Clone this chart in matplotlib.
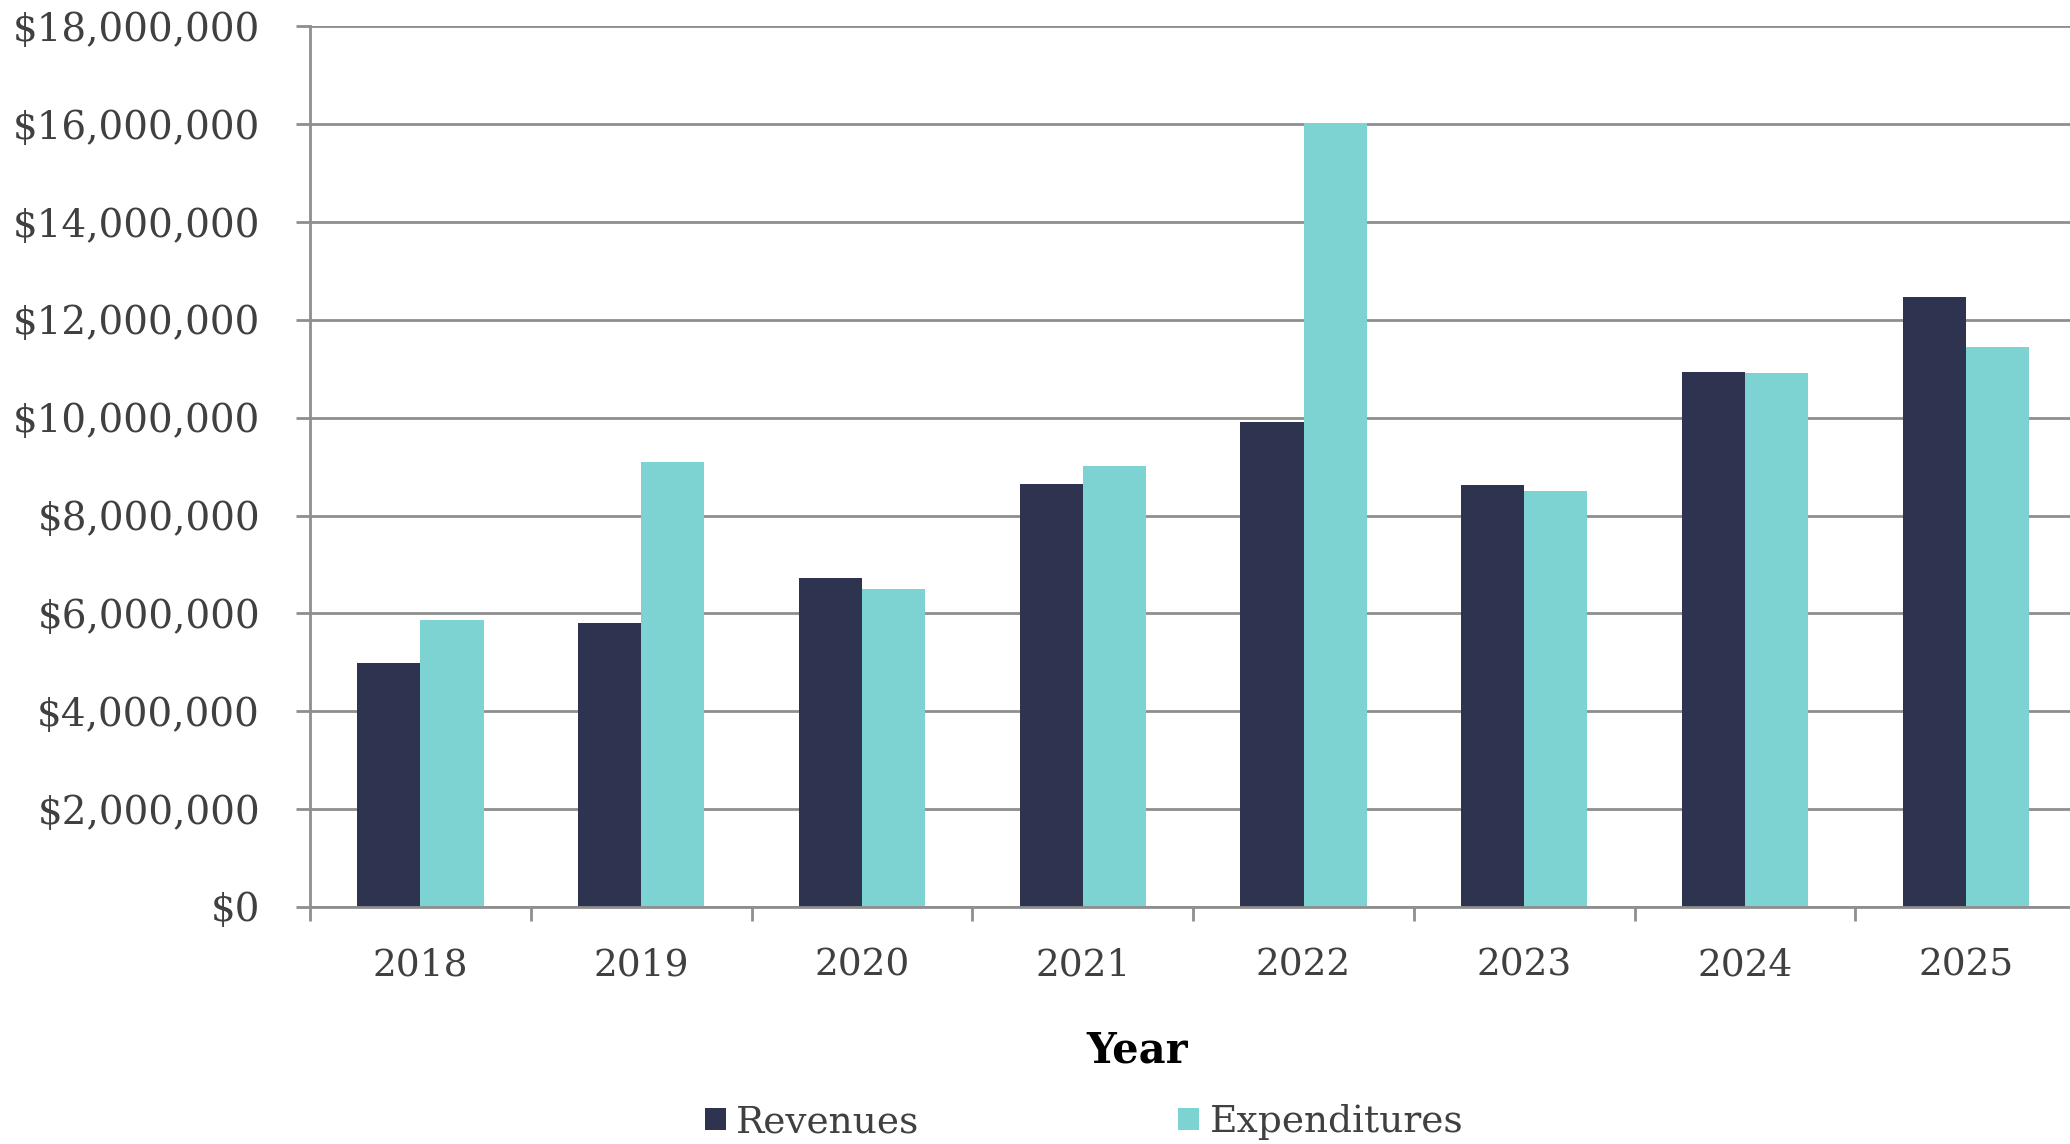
import numpy as np
import matplotlib.pyplot as plt
from matplotlib.ticker import FuncFormatter, FixedLocator

# Данные
years = ['2018', '2019', '2020', '2021', '2022', '2023', '2024', '2025']
revenues = [4990000, 5800000, 6720000, 8640000, 9910000, 8630000, 10940000, 12470000]
expenditures = [5860000, 9100000, 6510000, 9010000, 16020000, 8510000, 10910000, 11440000]

navy = '#2E3350'
teal = '#7DD3D2'
grid_col = '#8E8E8E'
text_col = '#404040'

plt.rcParams['font.family'] = 'DejaVu Serif'

fig = plt.figure(figsize=(20.7, 11.44), dpi=100)
ax = fig.add_axes([0.1498, 0.2072, 0.8532, 0.7697])

x = np.arange(len(years))
w = 0.2857
ax.bar(x - w / 2, revenues, w, color=navy, label='Revenues', zorder=3)
ax.bar(x + w / 2, expenditures, w, color=teal, label='Expenditures', zorder=3)

ax.set_xlim(-0.5, len(years) - 0.5)
ax.set_ylim(0, 18000000)
ax.set_yticks(np.arange(0, 18000001, 2000000))
ax.yaxis.set_major_formatter(FuncFormatter(lambda v, p: f'${v:,.0f}'))
ax.grid(axis='y', color=grid_col, linewidth=2.0, zorder=0)

# Деления по границам категорий, подписи по центрам
ax.xaxis.set_major_locator(FixedLocator(np.arange(-0.5, len(years), 1.0)))
ax.xaxis.set_minor_locator(FixedLocator(x))
ax.set_xticklabels([])
ax.set_xticklabels(years, minor=True)
ax.tick_params(axis='x', which='major', length=10, width=2.0, color=grid_col, direction='out')
ax.tick_params(axis='x', which='minor', length=0, pad=29, labelsize=27, labelcolor=text_col)
ax.tick_params(axis='y', length=10, width=2.0, color=grid_col, pad=26, labelsize=28, labelcolor=text_col)

for side in ['top', 'right']:
    ax.spines[side].set_visible(False)
for side in ['left', 'bottom']:
    ax.spines[side].set_color(grid_col)
    ax.spines[side].set_linewidth(2.0)
ax.spines['bottom'].set_zorder(4)

fig.text(0.5493, 0.082, 'Year', ha='center', va='center', fontsize=30, fontweight='bold', color='black')

fig.legend(loc='center', bbox_to_anchor=(0.5237, 0.019), ncol=2, frameon=False,
           fontsize=27, labelcolor=text_col, handlelength=0.56, handleheight=0.56,
           handletextpad=0.28, columnspacing=6.9)

plt.savefig('out.png', dpi=100)
